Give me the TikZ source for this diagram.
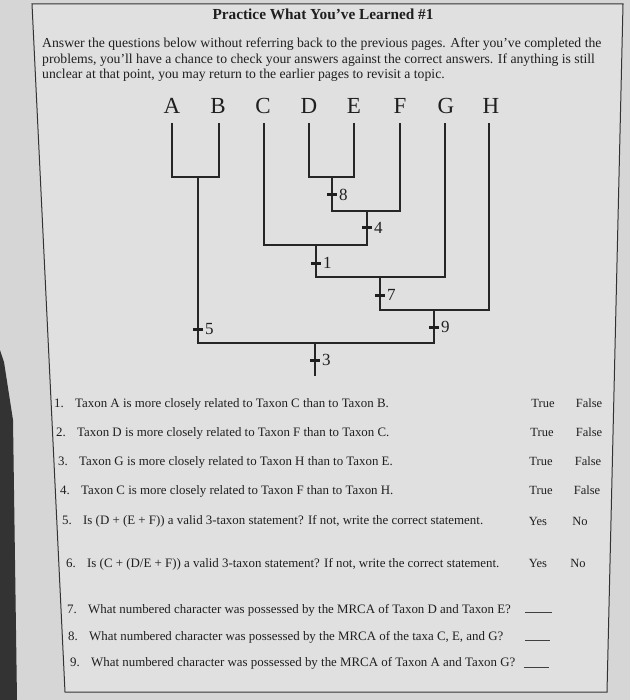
\documentclass[tikz,border=0pt]{standalone}
\usepackage{fontspec}
\setmainfont{Liberation Serif}
\begin{document}
\begin{tikzpicture}[x=1pt,y=-1pt,
  ink/.style={draw=black!85, line width=1.5pt},
  txt/.style={inner sep=0pt, text=black!88},
  para/.style={txt, anchor=west, font=\fontsize{13.7}{15}\selectfont},
  qtext/.style={txt, anchor=west, font=\fontsize{12.9}{14}\selectfont},
  ans/.style={txt, anchor=center, font=\fontsize{12.5}{14}\selectfont},
  taxon/.style={txt, anchor=center, font=\fontsize{23}{25}\selectfont},
  charmark/.style={rectangle, fill=black!88, minimum width=10pt, minimum height=3pt, inner sep=0pt},
  clabel/.style={txt, anchor=west, font=\fontsize{17}{19}\selectfont}
]
\useasboundingbox (0,0) rectangle (630,700);
\fill[black!16] (0,0) rectangle (630,700);
\fill[black!80] (0,350) -- (4,362) -- (13,420) -- (17,700) -- (0,700) -- cycle;
\fill[black!12] (32,4) -- (623,4) -- (607,692) -- (65,692) -- cycle;
\draw[draw=black!80, line width=1pt] (32,4) -- (623,4) -- (607,692) -- (65,692) -- cycle;

% title and intro
\node[txt, font=\fontsize{15.3}{17}\selectfont\bfseries] (title) at (323,14) {Practice What You’ve Learned \#1};
\node[para] (p1) at (42,44) {Answer the questions below without referring back to the previous pages. After you’ve completed the};
\node[para] (p2) at (42,60) {problems, you’ll have a chance to check your answers against the correct answers. If anything is still};
\node[para] (p3) at (42,75) {unclear at that point, you may return to the earlier pages to revisit a topic.};

% taxa
\node[taxon] (A) at (172,106) {A};
\node[taxon] (B) at (218,106) {B};
\node[taxon] (C) at (263,106) {C};
\node[taxon] (D) at (309,106) {D};
\node[taxon] (E) at (354,106) {E};
\node[taxon] (F) at (400,106) {F};
\node[taxon] (G) at (446,106) {G};
\node[taxon] (H) at (491,106) {H};

\coordinate (tA) at (172,123);
\coordinate (tB) at (219,123);
\coordinate (tC) at (264,123);
\coordinate (tD) at (309,123);
\coordinate (tE) at (354,123);
\coordinate (tF) at (400,123);
\coordinate (tG) at (445,123);
\coordinate (tH) at (489,123);

\coordinate (nAB) at (198,177);
\coordinate (nDE) at (332,177);
\coordinate (nDEF) at (367,211);
\coordinate (nCDEF) at (316,245);
\coordinate (nCG) at (380,277);
\coordinate (nCH) at (434,310);
\coordinate (nRoot) at (315,343);
\coordinate (rootEnd) at (315,376);

\draw[ink] (tA) |- (nAB) -| (tB);
\draw[ink] (tD) |- (nDE) -| (tE);
\draw[ink] (nDE) |- (nDEF) -| (tF);
\draw[ink] (tC) |- (nCDEF) -| (nDEF);
\draw[ink] (nCDEF) |- (nCG) -| (tG);
\draw[ink] (nCG) |- (nCH) -| (tH);
\draw[ink] (nAB) |- (nRoot) -| (nCH);
\draw[ink] (nRoot) -- (rootEnd);

% character marks
\node[charmark] (m8) at (332,195) {}; \node[clabel] (l8) at (339,195) {8};
\node[charmark] (m4) at (367,228) {}; \node[clabel] (l4) at (374,228) {4};
\node[charmark] (m1) at (316,263) {}; \node[clabel] (l1) at (323,263) {1};
\node[charmark] (m7) at (380,295) {}; \node[clabel] (l7) at (387,295) {7};
\node[charmark] (m5) at (198,329) {}; \node[clabel] (l5) at (205,329) {5};
\node[charmark] (m9) at (434,327) {}; \node[clabel] (l9) at (441,327) {9};
\node[charmark] (m3) at (315,360) {}; \node[clabel] (l3) at (322,360) {3};

% questions
\node[qtext] (q1) at (54,404) {\makebox[21pt][l]{1.}Taxon A is more closely related to Taxon C than to Taxon B.};
\node[qtext] (q2) at (56,433) {\makebox[21pt][l]{2.}Taxon D is more closely related to Taxon F than to Taxon C.};
\node[qtext] (q3) at (58,462) {\makebox[21pt][l]{3.}Taxon G is more closely related to Taxon H than to Taxon E.};
\node[qtext] (q4) at (60,491) {\makebox[21pt][l]{4.}Taxon C is more closely related to Taxon F than to Taxon H.};
\node[qtext] (q5) at (62,521) {\makebox[21pt][l]{5.}Is (D + (E + F)) a valid 3-taxon statement? If not, write the correct statement.};
\node[qtext] (q6) at (66,564) {\makebox[21pt][l]{6.}Is (C + (D/E + F)) a valid 3-taxon statement? If not, write the correct statement.};
\node[qtext] (q7) at (67,610) {\makebox[21pt][l]{7.}What numbered character was possessed by the MRCA of Taxon D and Taxon E?};
\node[qtext] (q8) at (68,637) {\makebox[21pt][l]{8.}What numbered character was possessed by the MRCA of the taxa C, E, and G?};
\node[qtext] (q9) at (70,663) {\makebox[21pt][l]{9.}What numbered character was possessed by the MRCA of Taxon A and Taxon G?};

\node[ans] (t1) at (543,403) {True}; \node[ans] (f1) at (589,403) {False};
\node[ans] (t2) at (542,432) {True}; \node[ans] (f2) at (589,432) {False};
\node[ans] (t3) at (541,461) {True}; \node[ans] (f3) at (588,461) {False};
\node[ans] (t4) at (541,490) {True}; \node[ans] (f4) at (587,490) {False};
\node[ans] (y5) at (538,521) {Yes}; \node[ans] (n5) at (580,521) {No};
\node[ans] (y6) at (538,563) {Yes}; \node[ans] (n6) at (578,563) {No};

\coordinate (b7a) at (525,612); \coordinate (b7b) at (552,612);
\coordinate (b8a) at (525,640); \coordinate (b8b) at (550,640);
\coordinate (b9a) at (524,667); \coordinate (b9b) at (549,667);
\draw[draw=black!75, line width=0.8pt] (b7a) -- (b7b);
\draw[draw=black!75, line width=0.8pt] (b8a) -- (b8b);
\draw[draw=black!75, line width=0.8pt] (b9a) -- (b9b);
\end{tikzpicture}
\end{document}
